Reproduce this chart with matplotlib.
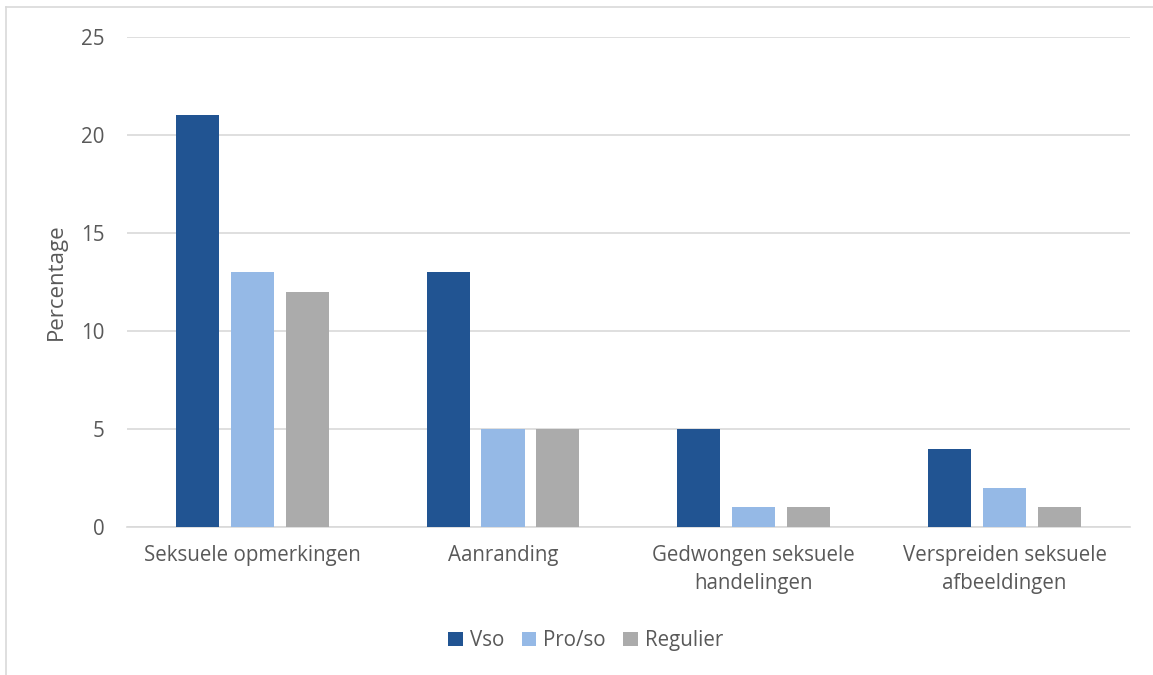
import numpy as np
import matplotlib.pyplot as plt
from matplotlib.lines import Line2D

categories = ["Seksuele opmerkingen", "Aanranding", "Gedwongen seksuele\nhandelingen",
              "Verspreiden seksuele\nafbeeldingen"]
series_names = ["Vso", "Pro/so", "Regulier"]
vso = [21, 13, 5, 4]
proso = [13, 5, 1, 2]
regulier = [12, 5, 1, 1]
yticks = [0, 5, 10, 15, 20, 25]

colors = ["#215492", "#95B9E6", "#ABABAB"]
text_color = "#595959"

plt.rcParams['font.family'] = ['Open Sans', 'DejaVu Sans']

fig = plt.figure(figsize=(11.53, 6.75), dpi=100)
ax = fig.add_axes([0.110, 0.2193, 0.870, 0.7259])

x = np.arange(len(categories))
offsets = [-0.219, 0, 0.219]
for vals, off, col, name in zip([vso, proso, regulier], offsets, colors, series_names):
    ax.bar(x + off, vals, width=0.172, color=col, label=name, zorder=3)

ax.set_xlim(-0.5, len(categories) - 0.5)
ax.set_ylim(0, 25)
ax.set_yticks(yticks)
ax.yaxis.grid(True, color="#D9D9D9", linewidth=1.2, zorder=0)
for s in ["top", "right", "left"]:
    ax.spines[s].set_visible(False)
ax.spines["bottom"].set_color("#D9D9D9")
ax.spines["bottom"].set_linewidth(1.2)
ax.tick_params(axis="both", length=0, labelsize=14.8, colors=text_color)
ax.tick_params(axis="y", pad=16)
ax.tick_params(axis="x", pad=13)
ax.set_xticks(x)
ax.set_xticklabels(categories, linespacing=1.45)
ax.set_ylabel("Percentage", fontsize=16, color=text_color, labelpad=10)

fig.legend(loc="center", bbox_to_anchor=(0.508, 0.051), ncol=3, frameon=False,
           fontsize=14.8, handlelength=0.7, handleheight=0.7, handletextpad=0.35,
           columnspacing=0.85, labelcolor=text_color)

# outer chart border
fig.add_artist(Line2D([6 / 1153, 6 / 1153], [0, 1 - 7 / 675], transform=fig.transFigure,
                      color="#D9D9D9", linewidth=1.2))
fig.add_artist(Line2D([6 / 1153, 1], [1 - 7 / 675, 1 - 7 / 675], transform=fig.transFigure,
                      color="#D9D9D9", linewidth=1.2))

fig.savefig("out.png", dpi=100)
